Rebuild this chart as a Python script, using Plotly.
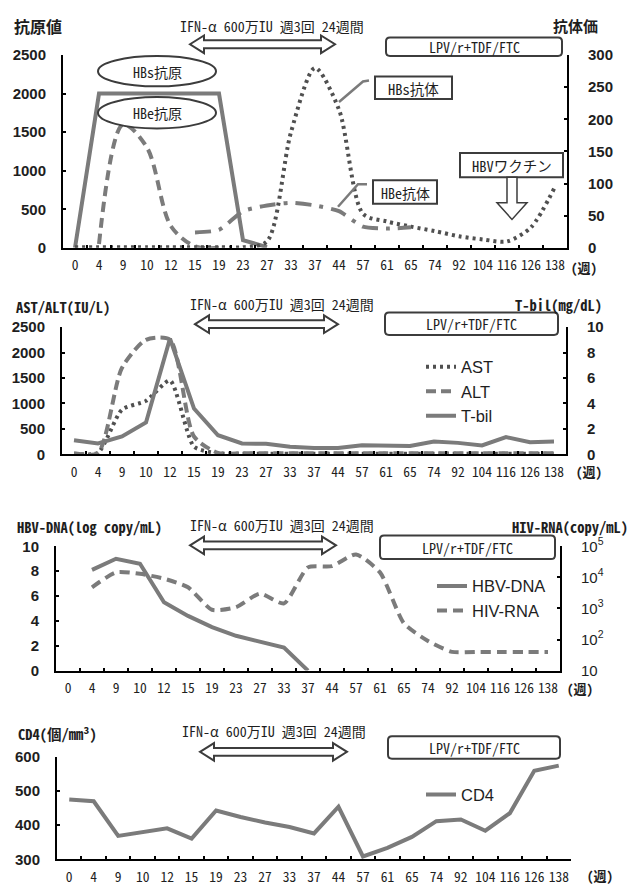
import plotly.graph_objects as go

W, H = 641, 890

# ---- data -------------------------------------------------------------
weeks = ["0", "4", "9", "10", "12", "15", "19", "23", "27", "33", "37", "44",
         "57", "61", "65", "74", "92", "104", "116", "126", "138"]

# panel 1: antigen (left axis) / antibody (right axis)
hbs_ag = [0, 2000, 2000, 2000, 2000, 2000, 2000, 100, 10] + [None] * 12
hbe_ag = [None, 50, 1600, 1300, 280, 20, 0] + [None] * 14
hbs_ab = [1, 1, 1, 1, 1, 1, 1, 1, 10, 180, 280, 215, 53, 41, 33, 26, 18, 13, 10, 32, 95]
hbe_ab = [None] * 5 + [24, 28, 57, 66, 70, 66, 57, 33, 30, 32] + [None] * 6

# panel 2: liver enzymes (left) / bilirubin (right)
ast = [10, 30, 880, 1050, 1450, 150, 20] + [10] * 14
alt = [20, 30, 1700, 2250, 2250, 350, 30] + [20] * 14
tbil = [1.1, 0.85, 1.4, 2.5, 9.1, 3.6, 1.5, 0.85, 0.83, 0.6, 0.5, 0.5, 0.72,
        0.65, 0.65, 1.0, 0.9, 0.7, 1.35, 0.95, 1.0]

# panel 3: HBV-DNA (log copy/mL, left) / HIV-RNA (copy/mL, right log axis)
hbv_dna = [None, 8.1, 9.0, 8.6, 5.5, 4.4, 3.5, 2.8, 2.35, 1.85, 0] + [None] * 10
hiv_rna = [None, 4800, 14500, 13000, 9100, 4800, 910, 1100, 3000, 1450, 21000,
           23000, 55000, 14500, 330, 90, 40, 40, 40, 40, 40]

# panel 4: CD4 count
cd4 = [475, 470, 369, 379, 391, 361, 443, 424, 408, 395, 376, 454, 309, 334,
       366, 412, 417, 384, 435, 559, 574]

log_ticks = [10, 100, 1000, 10000, 100000]
log_text = ["10", "10<sup>2</sup>", "10<sup>3</sup>", "10<sup>4</sup>", "10<sup>5</sup>"]

# ---- styling helpers ----------------------------------------------------
GRAY = "#7b7b7b"
DARK = "#3c3c3c"
TXT = "#1e1e1e"
JP = "Noto Sans CJK JP"
MONO = "Noto Sans Mono CJK JP, DejaVu Sans Mono, Noto Sans CJK JP"


def fx(x):
    return x / W


def fy(y):
    return 1 - y / H


def pts_path(pts):
    return "M " + " L ".join(f"{fx(x):.5f},{fy(y):.5f}" for x, y in pts) + " Z"


def rrect_path(x0, y0, x1, y1, r=4):
    X0, X1, Y0, Y1 = fx(x0), fx(x1), fy(y0), fy(y1)
    rx, ry = r / W, r / H
    return (f"M {X0+rx},{Y0} L {X1-rx},{Y0} Q {X1},{Y0} {X1},{Y0-ry} "
            f"L {X1},{Y1+ry} Q {X1},{Y1} {X1-rx},{Y1} L {X0+rx},{Y1} "
            f"Q {X0},{Y1} {X0},{Y1+ry} L {X0},{Y0-ry} Q {X0},{Y0} {X0+rx},{Y0} Z")


def double_arrow(x1, x2, yc, hh=9, s=4, h=14):
    return pts_path([(x1, yc), (x1 + h, yc - hh), (x1 + h, yc - s), (x2 - h, yc - s),
                     (x2 - h, yc - hh), (x2, yc), (x2 - h, yc + hh), (x2 - h, yc + s),
                     (x1 + h, yc + s), (x1 + h, yc + hh)])


shapes = []
annotations = []


def text(x, y, s, size=12, anchor="center", bold=False, family=MONO, color=TXT):
    annotations.append(dict(
        x=fx(x), y=fy(y), xref="paper", yref="paper", text=f"<b>{s}</b>" if bold else s,
        showarrow=False, xanchor=anchor, yanchor="middle",
        font=dict(family=family, size=size, color=color)))


def add_shape(**kw):
    shapes.append(dict(xref="paper", yref="paper", **kw))


fig = go.Figure()

# ---- traces --------------------------------------------------------------
fig.add_trace(go.Scatter(x=weeks, y=hbs_ag, xaxis="x", yaxis="y", mode="lines",
                         line=dict(color=GRAY, width=4), showlegend=False))
fig.add_trace(go.Scatter(x=weeks, y=hbe_ag, xaxis="x", yaxis="y", mode="lines",
                         line=dict(color=GRAY, width=4, dash="10px,6px", shape="spline", smoothing=0.9),
                         showlegend=False))
fig.add_trace(go.Scatter(x=weeks, y=hbs_ab, xaxis="x", yaxis="y2", mode="lines",
                         line=dict(color="#505050", width=4, dash="3px,4px", shape="spline", smoothing=0.8),
                         showlegend=False))
fig.add_trace(go.Scatter(x=weeks, y=hbe_ab, xaxis="x", yaxis="y2", mode="lines",
                         line=dict(color=GRAY, width=4, dash="16px,8px,4px,8px", shape="spline", smoothing=0.6),
                         showlegend=False))

fig.add_trace(go.Scatter(x=weeks, y=ast, xaxis="x2", yaxis="y3", mode="lines", name="AST",
                         line=dict(color="#505050", width=4, dash="3px,4px", shape="spline", smoothing=0.6),
                         legend="legend2"))
fig.add_trace(go.Scatter(x=weeks, y=alt, xaxis="x2", yaxis="y3", mode="lines", name="ALT",
                         line=dict(color=GRAY, width=4, dash="10px,5px", shape="spline", smoothing=0.7),
                         legend="legend2"))
fig.add_trace(go.Scatter(x=weeks, y=tbil, xaxis="x2", yaxis="y4", mode="lines", name="T-bil",
                         line=dict(color=GRAY, width=4), legend="legend2"))

fig.add_trace(go.Scatter(x=weeks, y=hbv_dna, xaxis="x3", yaxis="y5", mode="lines", name="HBV-DNA",
                         line=dict(color=GRAY, width=4), legend="legend3"))
fig.add_trace(go.Scatter(x=weeks, y=hiv_rna, xaxis="x3", yaxis="y6", mode="lines", name="HIV-RNA",
                         line=dict(color=GRAY, width=4, dash="10px,6px", shape="spline", smoothing=0.6),
                         legend="legend3"))

fig.add_trace(go.Scatter(x=weeks, y=cd4, xaxis="x4", yaxis="y7", mode="lines", name="CD4",
                         line=dict(color=GRAY, width=4), legend="legend4"))

# ---- axes -----------------------------------------------------------------
tick_font_x = dict(family=MONO, size=13.5, color=TXT)
tick_font_y = dict(family="Liberation Sans", size=15, color=TXT, weight="bold")


def xaxis(left, right):
    return dict(domain=[fx(left), fx(right)], type="category",
                categoryorder="array", categoryarray=weeks, range=[-0.5, 20.5],
                tickmode="linear", tick0=0, dtick=1, tickangle=0,
                showline=True, linecolor="black", linewidth=2, mirror=False,
                ticks="inside", ticklen=3, tickwidth=1.5, tickcolor="black",
                tickson="boundaries", showgrid=False, zeroline=False,
                tickfont=tick_font_x, ticklabelstandoff=4, fixedrange=True)


def yaxis(top, bottom, rng, dtick, side="left", **kw):
    d = dict(domain=[fy(bottom), fy(top)], range=rng, dtick=dtick, side=side,
             showline=True, linecolor="black", linewidth=2,
             ticks="inside", ticklen=3, tickwidth=1.5, tickcolor="black",
             showgrid=False, zeroline=False, tickfont=tick_font_y,
             ticklabelstandoff=12 if side == "left" else 16, fixedrange=True)
    d.update(kw)
    return d


layout = dict(
    width=W, height=H, autosize=False,
    margin=dict(l=0, r=0, t=0, b=0),
    paper_bgcolor="white", plot_bgcolor="white",
    xaxis=dict(xaxis(63, 567), anchor="y"),
    yaxis=yaxis(45, 242, [0, 2500], 500, anchor="x"),
    yaxis2=yaxis(45, 242, [0, 300], 50, side="right", overlaying="y", anchor="x"),
    xaxis2=dict(xaxis(62, 566), anchor="y3"),
    yaxis3=yaxis(323, 453, [0, 2500], 500, anchor="x2"),
    yaxis4=yaxis(323, 453, [0, 10], 2, side="right", overlaying="y3", anchor="x2"),
    xaxis3=dict(xaxis(56, 560), anchor="y5"),
    yaxis5=yaxis(547, 674, [0, 10], 2, anchor="x3"),
    yaxis6=yaxis(547, 674, [1, 5], None, side="right", overlaying="y5", anchor="x3",
                 type="log", tickmode="array", tickvals=log_ticks, ticktext=log_text,
                 tickfont=dict(family="Liberation Sans", size=15, color=TXT)),
    xaxis4=dict(xaxis(57, 571), anchor="y7"),
    yaxis7=yaxis(762, 867, [300, 600], 100, anchor="x4"),
)

legend_common = dict(bgcolor="rgba(0,0,0,0)", borderwidth=0, xanchor="left", yanchor="top",
                     font=dict(family="Liberation Sans", size=16.5, color=TXT),
                     tracegroupgap=0, itemclick=False, itemdoubleclick=False)
layout["legend2"] = dict(legend_common, x=fx(421), y=fy(346))
layout["legend3"] = dict(legend_common, x=fx(432), y=fy(570))
layout["legend4"] = dict(legend_common, x=fx(421), y=fy(783))

# ---- panel headings & treatment bars --------------------------------------
ifn = "IFN-α 600万IU 週3回 24週間"
panels = [
    # (ifn text centre x, y, arrow x1, x2, centre y, LPV box)
    (272, 15, 190, 335, 34, (386, 27, 562, 46)),
    (282, 299, 195, 338, 320, (385, 308, 558, 331)),
    (282, 525, 190, 336, 546, (380, 536, 555, 560)),
    (274, 736, 200, 347, 757, (388, 741, 560, 764)),
]
for ix, iy, ax1, ax2, ayc, box in panels:
    text(ix, iy, ifn, size=14)
    add_shape(type="path", path=double_arrow(ax1, ax2, ayc), fillcolor="white",
              line=dict(color=DARK, width=2))
    bx0, by0, bx1, by1 = box
    add_shape(type="path", path=rrect_path(bx0, by0, bx1, by1, 4), fillcolor="white",
              line=dict(color=DARK, width=2))
    text((bx0 + bx1) / 2, (by0 + by1) / 2 + 0.5, "LPV/r+TDF/FTC", size=14)

text(12, 15, "抗原値", size=16, anchor="left", bold=True, family=JP)
text(600, 15, "抗体価", size=15, anchor="right", bold=True, family=JP)
text(14, 302, "AST/ALT(IU/L)", size=14.5, anchor="left", bold=True)
text(604, 300, "T-bil(mg/dL)", size=14.5, anchor="right", bold=True)
text(15, 527, "HBV-DNA(log copy/mL)", size=14.5, anchor="left", bold=True)
text(630, 527, "HIV-RNA(copy/mL)", size=14.5, anchor="right", bold=True)
text(16, 738, "CD4(個/mm³)", size=14.5, anchor="left", bold=True)

for wx, wy in [(584, 262), (589, 471), (580, 692), (600, 883)]:
    text(wx, wy, "(週)", size=13, bold=True)

# ---- panel 1 callouts -------------------------------------------------------
add_shape(type="circle", x0=fx(98), x1=fx(216), y0=fy(77), y1=fy(46),
          fillcolor="white", line=dict(color=DARK, width=2))
text(157, 62, "HBs抗原", size=14)
add_shape(type="circle", x0=fx(98), x1=fx(216), y0=fy(120), y1=fy(88),
          fillcolor="white", line=dict(color=DARK, width=2))
text(157, 104, "HBe抗原", size=14)

add_shape(type="rect", x0=fx(375), x1=fx(452), y0=fy(90), y1=fy(67),
          fillcolor="white", line=dict(color=DARK, width=2))
text(413.5, 79, "HBs抗体", size=14.5)
add_shape(type="path", path="M {:.5f},{:.5f} L {:.5f},{:.5f} L {:.5f},{:.5f}".format(
    fx(339), fy(93), fx(363), fy(72), fx(369), fy(71)), line=dict(color=GRAY, width=2.5))

add_shape(type="rect", x0=fx(373), x1=fx(437), y0=fy(197), y1=fy(173),
          fillcolor="white", line=dict(color=DARK, width=2))
text(405, 185.5, "HBe抗体", size=14)
add_shape(type="path", path="M {:.5f},{:.5f} L {:.5f},{:.5f} L {:.5f},{:.5f}".format(
    fx(338), fy(200), fx(358), fy(177), fx(367), fy(177)), line=dict(color=GRAY, width=2.5))

add_shape(type="rect", x0=fx(460), x1=fx(563), y0=fy(170), y1=fy(145),
          fillcolor="white", line=dict(color=DARK, width=2))
text(511.5, 158, "HBVワクチン", size=14.5)
add_shape(type="path", path=pts_path([(507, 170), (517, 170), (517, 196), (527, 196),
                                      (512, 213), (497, 196), (507, 196)]),
          fillcolor="white", line=dict(color=DARK, width=1.5))

layout["shapes"] = shapes
layout["annotations"] = annotations
fig.update_layout(**layout)

fig.write_html("out.html")
